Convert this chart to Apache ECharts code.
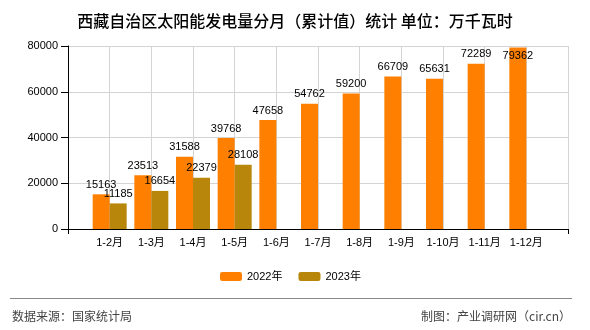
<!DOCTYPE html>
<html>
<head>
<meta charset="utf-8">
<script src="https://cdn.jsdelivr.net/npm/echarts@6/dist/echarts.min.js"></script>
<style>html,body{margin:0;padding:0;background:#fff}#c{width:590px;height:330px}</style>
</head>
<body>
<div id="c"></div>
<script>
var categories = ['1-2月','1-3月','1-4月','1-5月','1-6月','1-7月','1-8月','1-9月','1-10月','1-11月','1-12月'];
var values2022 = [15163, 23513, 31588, 39768, 47658, 54762, 59200, 66709, 65631, 72289, 79362];
var values2023 = [11185, 16654, 22379, 28108];
var yTicks = [0, 20000, 40000, 60000, 80000];
var seriesNames = ['2022年', '2023年'];

var FONT = '"Liberation Sans", "Noto Sans CJK SC", sans-serif';
var CJK = '"Noto Sans CJK SC", "Liberation Sans", sans-serif';

// pad with empty slot on both ends so categories sit on the grid lines
var xCats = [''].concat(categories).concat(['']);
function pad(arr) {
  var out = [null];
  for (var i = 0; i < categories.length; i++) out.push(i < arr.length ? arr[i] : null);
  out.push(null);
  return out;
}
var d2022 = pad(values2022).map(function (v, i) {
  if (v !== null && v > yTicks[yTicks.length - 1] * 0.95) {
    return { value: v, label: { position: 'insideTop', distance: 3 } };
  }
  return v;
});
var d2023 = pad(values2023);

var chart = echarts.init(document.getElementById('c'), null, { renderer: 'canvas' });
chart.setOption({
  animation: false,
  textStyle: { fontFamily: FONT },
  title: {
    text: '西藏自治区太阳能发电量分月（累计值）统计 单位：万千瓦时',
    left: 'center',
    top: 8,
    textStyle: { fontFamily: CJK, fontSize: 16, fontWeight: 500, color: '#000' }
  },
  legend: {
    data: seriesNames,
    left: 220,
    top: 271,
    padding: 0,
    itemWidth: 22,
    itemHeight: 9,
    itemGap: 16,
    textStyle: { fontFamily: FONT, fontSize: 11, color: '#000' }
  },
  grid: { left: 68, right: 22, top: 46, bottom: 101, containLabel: false },
  xAxis: {
    type: 'category',
    data: xCats,
    boundaryGap: false,
    axisLine: { show: true, lineStyle: { color: '#000', width: 1 } },
    axisTick: {
      show: true, length: 5,
      interval: function (idx) { return idx === 0 || idx === xCats.length - 1; },
      lineStyle: { color: '#000' }
    },
    axisLabel: { interval: 0, margin: 8, fontSize: 11, color: '#000', fontFamily: FONT },
    splitLine: { show: true, interval: 0, lineStyle: { color: '#d4d4d4', width: 1 } }
  },
  yAxis: {
    type: 'value',
    min: yTicks[0],
    max: yTicks[yTicks.length - 1],
    interval: yTicks[1] - yTicks[0],
    axisLine: { show: true, lineStyle: { color: '#000', width: 1 } },
    axisTick: { show: true, length: 7, lineStyle: { color: '#000' } },
    axisLabel: { margin: 10, fontSize: 11, color: '#000', fontFamily: FONT, formatter: function (v) { return String(v); } },
    splitLine: { show: true, lineStyle: { color: '#d4d4d4', width: 1 } }
  },
  series: [
    {
      name: seriesNames[0], type: 'bar', data: d2022, barWidth: 17, barGap: '0%',
      itemStyle: { color: '#FF8000' },
      label: { show: true, position: 'top', distance: 4, fontSize: 11, color: '#000', fontFamily: FONT }
    },
    {
      name: seriesNames[1], type: 'bar', data: d2023, barWidth: 17, barGap: '0%',
      itemStyle: { color: '#B8860B' },
      label: { show: true, position: 'top', distance: 4, fontSize: 11, color: '#000', fontFamily: FONT }
    }
  ],
  graphic: [
    { type: 'line', shape: { x1: 10, y1: 298.5, x2: 572, y2: 298.5 }, style: { stroke: '#888', lineWidth: 1 } },
    { type: 'text', left: 12, top: 310, style: { text: '数据来源：国家统计局', font: '12px ' + CJK, fill: '#444' } },
    { type: 'text', right: 19, top: 310, style: { text: '制图：产业调研网（cir.cn）', font: '12px ' + CJK, fill: '#444' } }
  ]
});
</script>
</body>
</html>
